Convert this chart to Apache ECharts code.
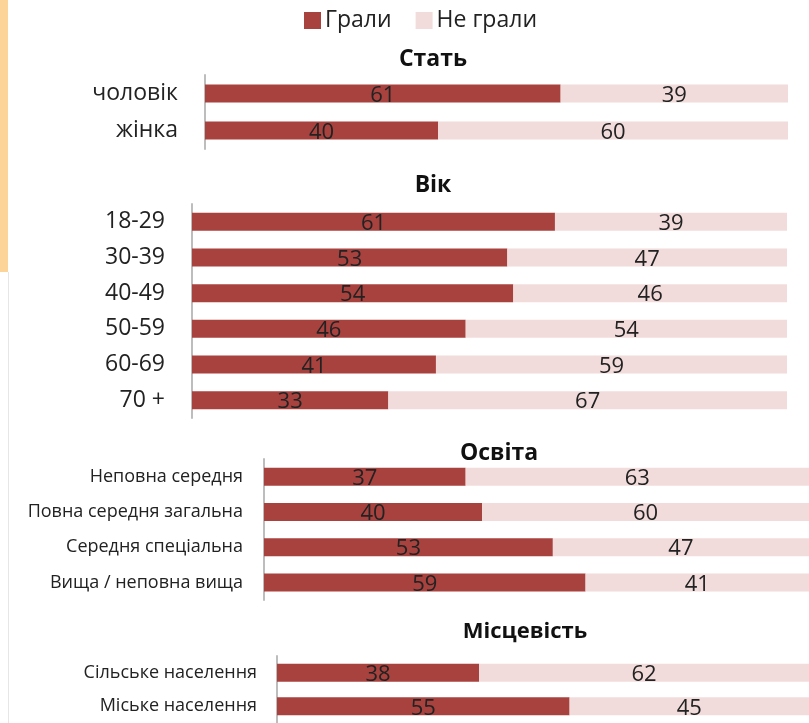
<!DOCTYPE html>
<html>
<head>
<meta charset="utf-8">
<script src="https://cdn.jsdelivr.net/npm/echarts@6/dist/echarts.min.js"></script>
<style>
  html, body { margin: 0; padding: 0; background: #fff; }
  #container { width: 809px; height: 723px; }
</style>
</head>
<body>
<div id="container"></div>
<script>
var sexCats = ['чоловік', 'жінка'];
var sexPlayed = [61, 40];
var sexNot = [39, 60];

var ageCats = ['18-29', '30-39', '40-49', '50-59', '60-69', '70 +'];
var agePlayed = [61, 53, 54, 46, 41, 33];
var ageNot = [39, 47, 46, 54, 59, 67];

var eduCats = ['Неповна середня', 'Повна середня загальна', 'Середня спеціальна', 'Вища / неповна вища'];
var eduPlayed = [37, 40, 53, 59];
var eduNot = [63, 60, 47, 41];

var placeCats = ['Сільське населення', 'Міське населення'];
var placePlayed = [38, 55];
var placeNot = [62, 45];

var groupTitles = ['Стать', 'Вік', 'Освіта', 'Місцевість'];

var DARK = '#A8423F';
var LIGHT = '#F2DCDB';
var FONT = 'Open Sans';

var dom = document.getElementById('container');
var myChart = echarts.init(dom);

// grid boxes, one per group
var grids = [
    { left: 205, right: 21, top: 75, height: 74 },
    { left: 192, right: 22, top: 204, height: 214 },
    { left: 264, right: 0, top: 459, height: 141 },
    { left: 277, right: -3, top: 656, height: 72 }
];
var cats = [sexCats, ageCats, eduCats, placeCats];
var played = [sexPlayed, agePlayed, eduPlayed, placePlayed];
var notPlayed = [sexNot, ageNot, eduNot, placeNot];
var catFont = [23, 23, 18, 18];
var catMargin = [27, 27, 21, 20];
var titlePos = [{ x: 428, y: 43 }, { x: 428, y: 169 }, { x: 494, y: 437 }, { x: 520, y: 616 }];

var xAxes = [], yAxes = [], series = [], titles = [];
for (var i = 0; i < 4; i++) {
    xAxes.push({
        type: 'value', gridIndex: i, min: 0, max: 100,
        show: false
    });
    yAxes.push({
        type: 'category', gridIndex: i, data: cats[i], inverse: true,
        axisLine: { show: true, lineStyle: { color: '#BDBDBD', width: 2 } },
        axisTick: { show: false },
        axisLabel: { fontSize: catFont[i], color: '#222', fontFamily: FONT, margin: catMargin[i] }
    });
    series.push({
        name: 'Грали', type: 'bar', stack: 'g' + i,
        xAxisIndex: i, yAxisIndex: i, data: played[i],
        barWidth: 18, itemStyle: { color: DARK },
        label: { show: true, position: 'inside', color: '#222', fontSize: 22, fontFamily: FONT, offset: [0, 2] }
    });
    series.push({
        name: 'Не грали', type: 'bar', stack: 'g' + i,
        xAxisIndex: i, yAxisIndex: i, data: notPlayed[i],
        barWidth: 18, itemStyle: { color: LIGHT },
        label: { show: true, position: 'inside', color: '#222', fontSize: 22, fontFamily: FONT, offset: [0, 2] }
    });
    titles.push({
        text: groupTitles[i], left: titlePos[i].x, top: titlePos[i].y, textAlign: 'center',
        textStyle: { fontSize: i == 3 ? 22 : 23, fontWeight: 'bold', color: '#111', fontFamily: FONT }
    });
}

var option = {
    animation: false,
    title: titles,
    legend: {
        data: ['Грали', 'Не грали'],
        left: 299, top: 4,
        icon: 'rect', itemWidth: 17, itemHeight: 17, itemGap: 24, itemStyle: { borderWidth: 0 },
        textStyle: { fontSize: 23, color: '#222', fontFamily: FONT, padding: [0, 0, 0, -1] }
    },
    graphic: [
        { type: 'rect', shape: { x: 0, y: 0, width: 8, height: 272 }, style: { fill: '#FCD49A' }, silent: true },
        { type: 'rect', shape: { x: 8, y: 272, width: 1, height: 451 }, style: { fill: '#E6E6E6' }, silent: true }
    ],
    grid: grids,
    xAxis: xAxes,
    yAxis: yAxes,
    series: series
};
myChart.setOption(option);
</script>
</body>
</html>
